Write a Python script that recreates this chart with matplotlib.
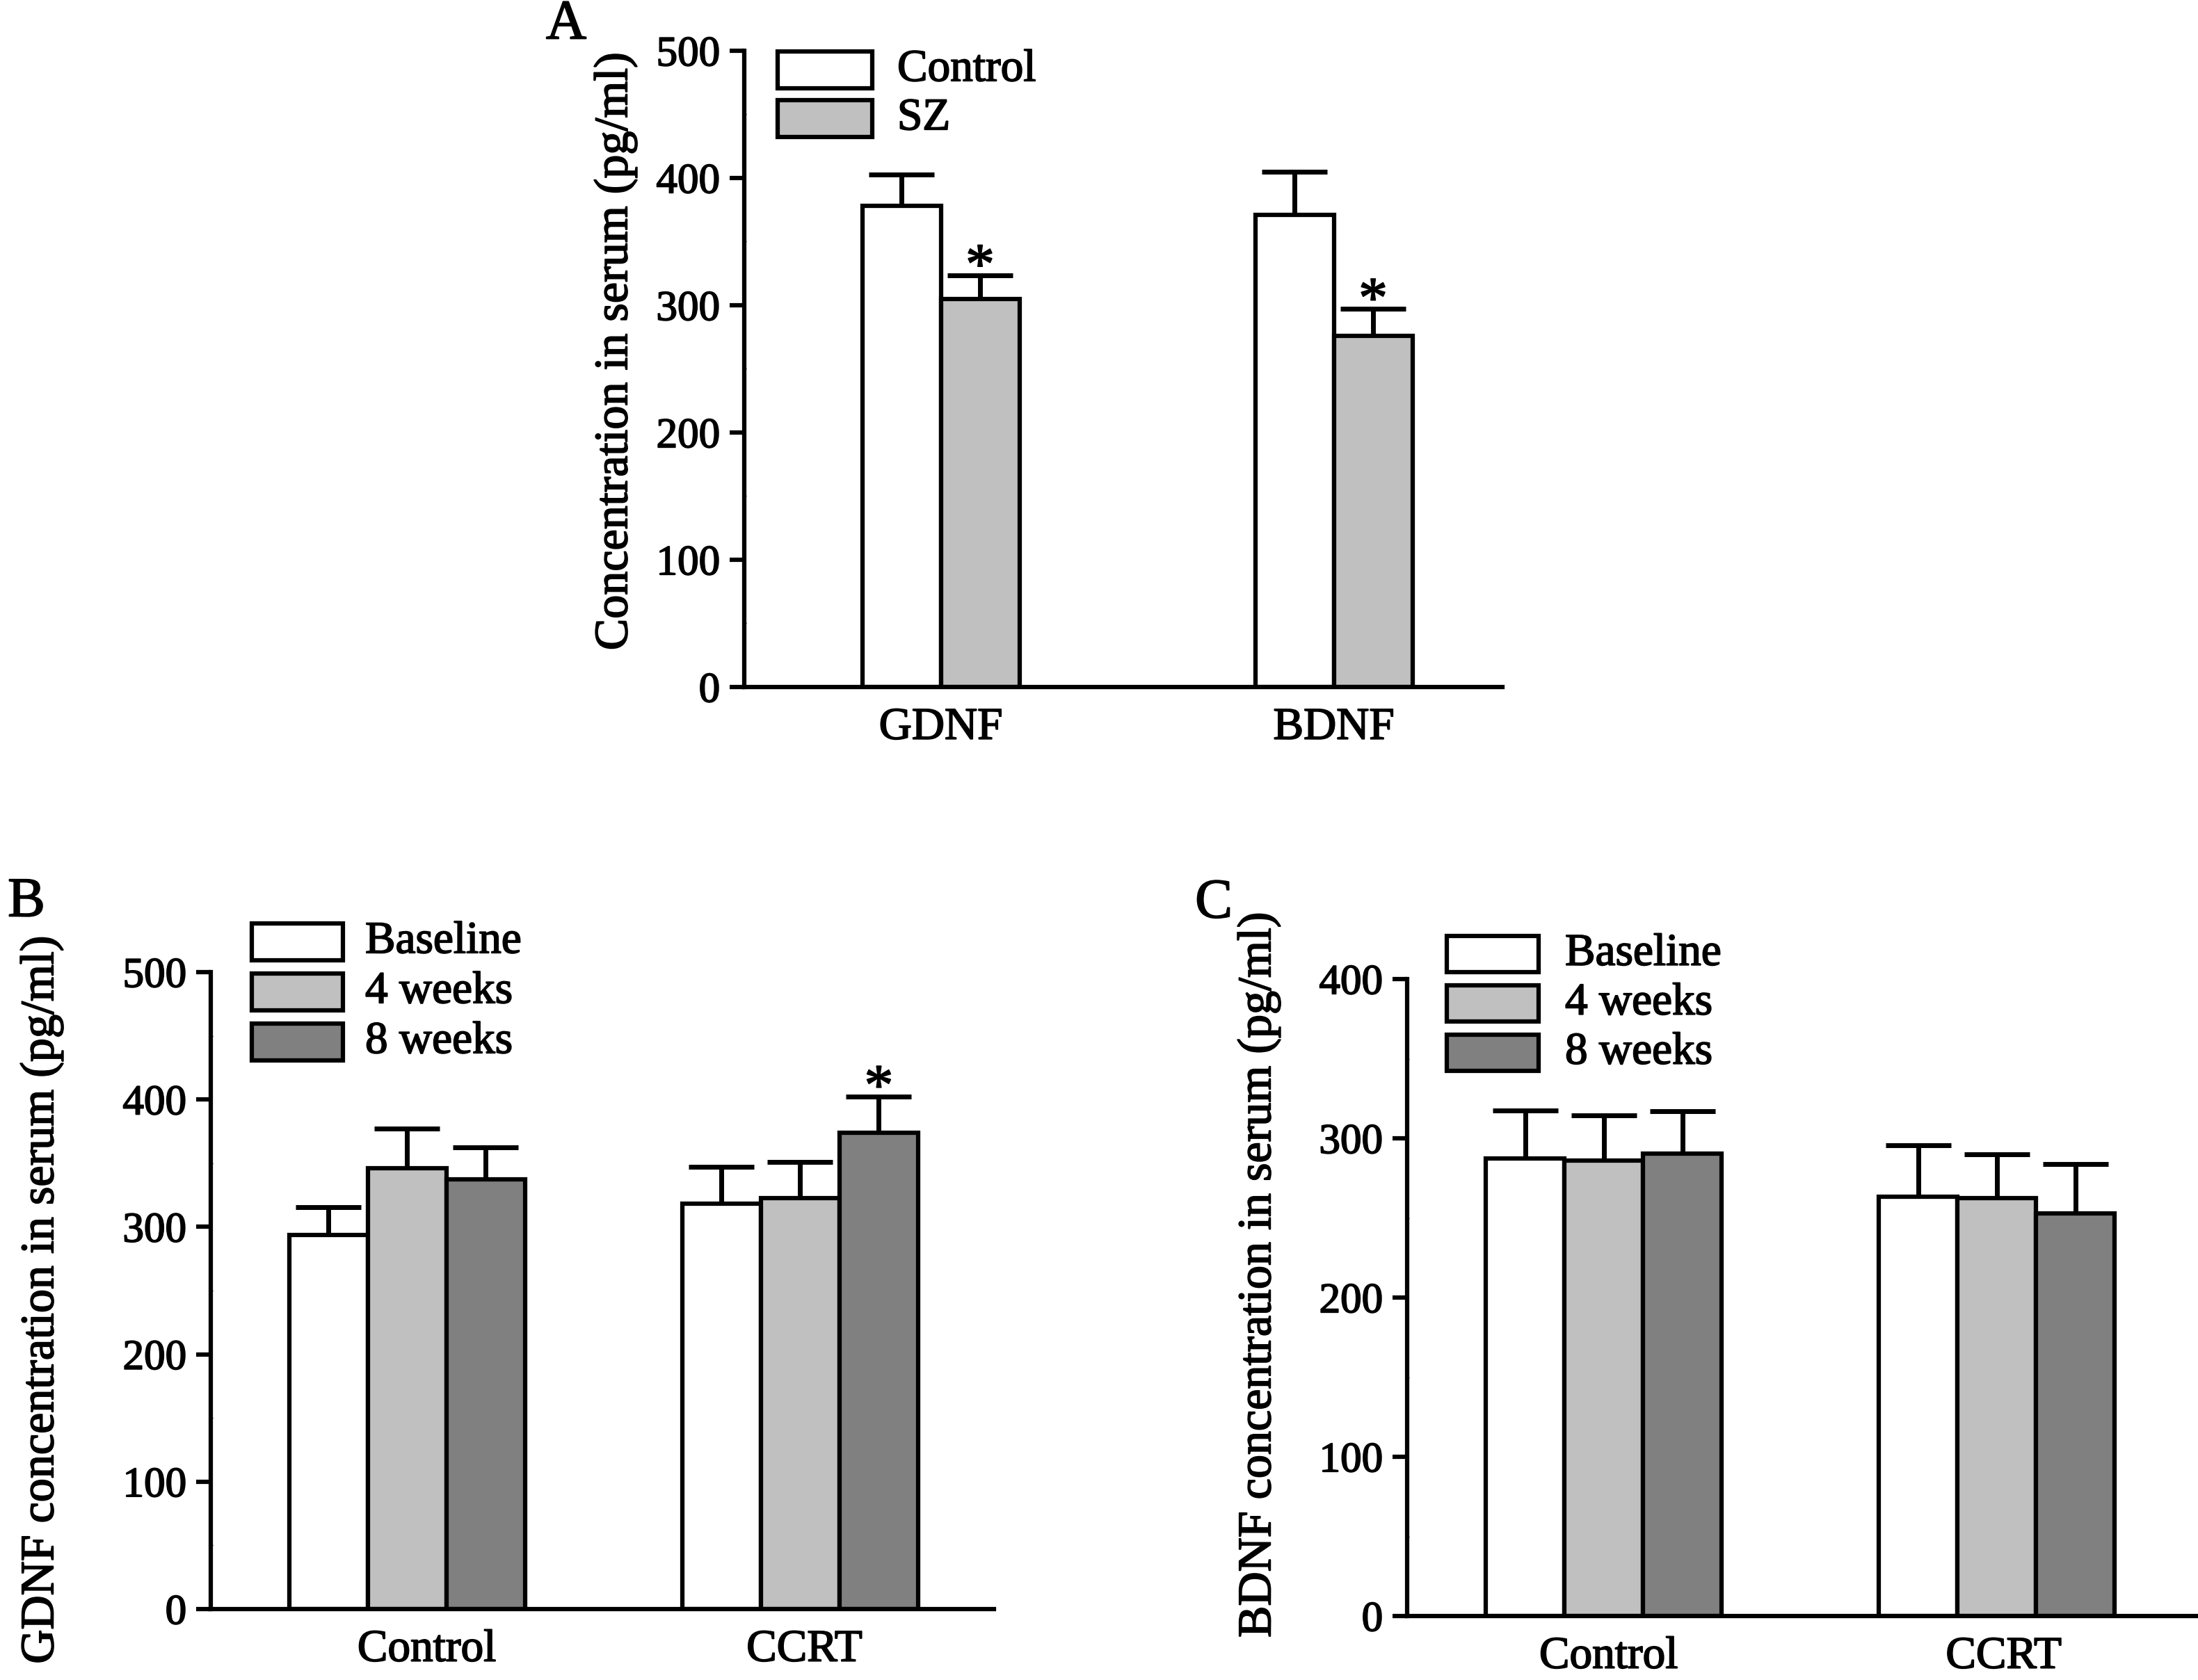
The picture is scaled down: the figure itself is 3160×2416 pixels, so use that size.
import matplotlib
matplotlib.use("Agg")
import matplotlib.pyplot as plt
import matplotlib.transforms as mtransforms
import matplotlib.patheffects as pe
from matplotlib.patches import Rectangle
from matplotlib.text import Text
import numpy as np

plt.rcParams['font.family'] = ['Liberation Serif', 'DejaVu Serif']

# ---------------- data ----------------
a_categories = ["GDNF", "BDNF"]
a_series = ["Control", "SZ"]
a_control = [378, 371]
a_control_err = [25, 34]
a_sz = [305, 276]
a_sz_err = [18.5, 21]

bc_categories = ["Control", "CCRT"]
bc_series = ["Baseline", "4 weeks", "8 weeks"]
b_baseline = [293.5, 318]
b_baseline_err = [22, 29]
b_4wk = [346, 322.5]
b_4wk_err = [31, 28.5]
b_8wk = [337.5, 374]
b_8wk_err = [25, 28.5]

c_baseline = [287.5, 263.5]
c_baseline_err = [30, 32]
c_4wk = [286, 262.5]
c_4wk_err = [28.5, 27.5]
c_8wk = [290.5, 253]
c_8wk_err = [26.5, 31]

W, H = 3160, 2416
fig = plt.figure(figsize=(W / 100, H / 100), dpi=100)

LW = 4.5
TICK_FS = 44
XLAB_FS = 47
YLAB_FS = 49
LEG_FS = 47
LET_FS = 58
BAR_W = 0.2


def px_ax(left, bottom, right, top):
    return fig.add_axes([left / W, 1 - bottom / H, (right - left) / W, (bottom - top) / H])


def style_axis(ax, ymax, ystep, xlim):
    ax.set_xlim(*xlim)
    ax.set_ylim(0, ymax)
    for s in ("top", "right"):
        ax.spines[s].set_visible(False)
    for s in ("left", "bottom"):
        ax.spines[s].set_linewidth(LW)
    ax.set_yticks(np.arange(0, ymax + 1, ystep))
    ax.set_yticks(np.arange(ystep / 2, ymax, ystep), minor=True)
    ax.tick_params(axis="y", which="major", direction="out", length=15, width=LW,
                   labelsize=TICK_FS, pad=10)
    ax.tick_params(axis="y", which="minor", direction="in", length=2, width=1)
    ax.tick_params(axis="x", which="both", length=0, labelsize=XLAB_FS, pad=21)


def draw_group(ax, cats, series_vals, series_errs, colors, sigs, label_shift_px):
    x = np.arange(len(cats))
    n = len(series_vals)
    for i, (vals, errs, col) in enumerate(zip(series_vals, series_errs, colors)):
        off = (i - (n - 1) / 2) * BAR_W
        ax.errorbar(x + off, vals, yerr=[np.zeros(len(vals)), errs], fmt="none",
                    ecolor="black", elinewidth=LW + 0.5, capsize=34, capthick=LW + 0.5,
                    zorder=1)
        ax.bar(x + off, vals, width=BAR_W, color=col, edgecolor="black",
               linewidth=LW, zorder=2)
        for j in range(len(vals)):
            if sigs[i][j]:
                ax.annotate("*", (x[j] + off, vals[j] + errs[j]), xytext=(0, -8),
                            textcoords="offset points", ha="center", va="baseline",
                            fontsize=60, color="black")
    ax.set_xticks(x)
    ax.set_xticklabels(cats)
    for lab, dx in zip(ax.get_xticklabels(), label_shift_px):
        lab.set_transform(lab.get_transform() +
                          mtransforms.ScaledTranslation(dx / 100, 0, fig.dpi_scale_trans))


def draw_legend(labels, colors, box_left, box_right, first_top, box_h, step, text_left):
    for k, (lab, col) in enumerate(zip(labels, colors)):
        top = first_top + k * step
        fig.add_artist(Rectangle((box_left / W, 1 - (top + box_h) / H),
                                 (box_right - box_left) / W, box_h / H,
                                 transform=fig.transFigure, facecolor=col,
                                 edgecolor="black", linewidth=LW))
        fig.text(text_left / W, 1 - (top + box_h / 2) / H, lab, fontsize=LEG_FS,
                 ha="left", va="center")


WHITE, LIGHT, DARK = "#ffffff", "#c0c0c0", "#808080"

# ---------------- Panel A ----------------
axA = px_ax(1070, 988, 2160, 73)
style_axis(axA, 500, 100, (-0.5, 1.429))
draw_group(axA, a_categories, [a_control, a_sz], [a_control_err, a_sz_err],
           [WHITE, LIGHT], [[False, False], [True, True]], [0, 0])
fig.text(885 / W, 1 - 506 / H, "Concentration in serum (pg/ml)", rotation=90,
         fontsize=YLAB_FS, ha="center", va="center")
fig.text(814 / W, 1 - 36 / H, "A", fontsize=LET_FS, ha="center", va="center")
draw_legend(a_series, [WHITE, LIGHT], 1118, 1254, 74, 53, 70, 1290)

# ---------------- Panel B ----------------
axB = px_ax(303, 2314, 1429, 1398)
style_axis(axB, 500, 100, (-0.5, 1.493))
draw_group(axB, bc_categories, [b_baseline, b_4wk, b_8wk],
           [b_baseline_err, b_4wk_err, b_8wk_err], [WHITE, LIGHT, DARK],
           [[False, False], [False, False], [False, True]], [28, 6])
fig.text(60 / W, 1 - 1870 / H, "GDNF concentration in serum (pg/ml)", rotation=90,
         fontsize=YLAB_FS, ha="center", va="center")
fig.text(38 / W, 1 - 1298 / H, "B", fontsize=LET_FS, ha="center", va="center")
draw_legend(bc_series, [WHITE, LIGHT, DARK], 362, 493, 1328, 53, 72, 525)

# ---------------- Panel C ----------------
axC = px_ax(2023, 2324, 3160, 1408)
style_axis(axC, 400, 100, (-0.5, 1.512))
draw_group(axC, bc_categories, [c_baseline, c_4wk, c_8wk],
           [c_baseline_err, c_4wk_err, c_8wk_err], [WHITE, LIGHT, DARK],
           [[False, False], [False, False], [False, False]], [7, 10])
fig.text(1810 / W, 1 - 1834 / H, "BDNF concentration in serum (pg/ml)", rotation=90,
         fontsize=YLAB_FS, ha="center", va="center")
fig.text(1745 / W, 1 - 1300 / H, "C", fontsize=LET_FS, ha="center", va="center")
draw_legend(bc_series, [WHITE, LIGHT, DARK], 2080, 2212, 1346, 52, 71, 2250)

# heavier strokes on text, as in the reference
for t in fig.findobj(Text):
    t.set_path_effects([pe.withStroke(linewidth=1.3, foreground="black")])

fig.savefig("out.png", dpi=100, facecolor="white")
